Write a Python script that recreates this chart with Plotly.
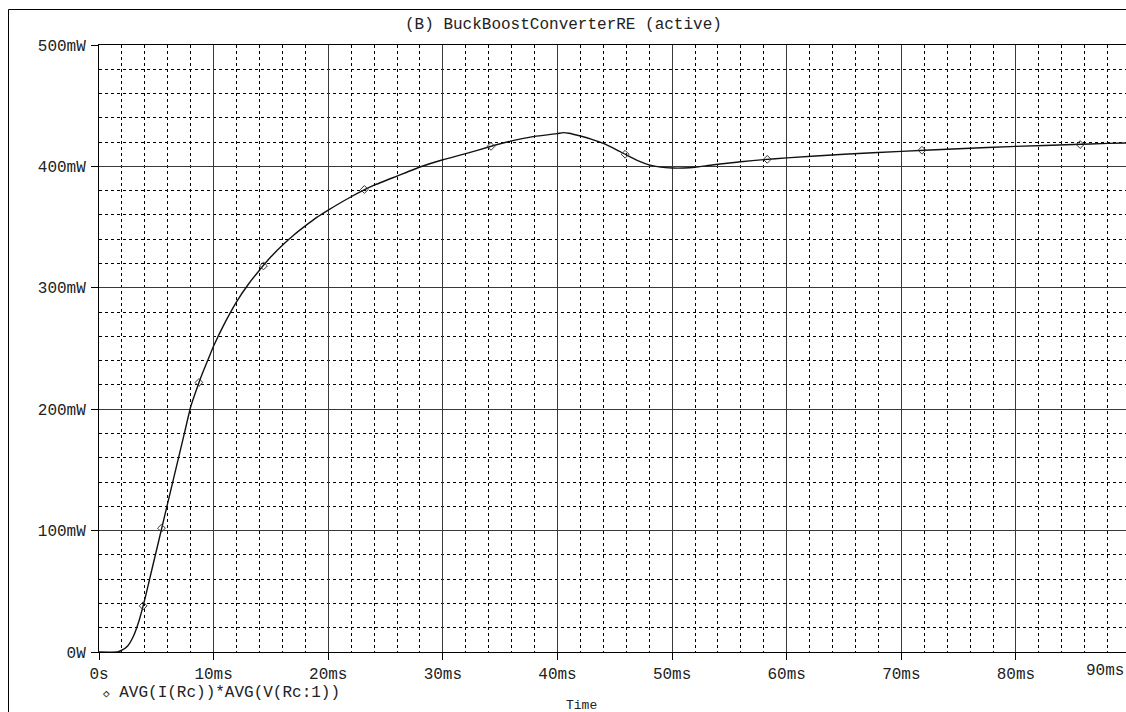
import plotly.graph_objects as go

# ---- data (time in ms, power in mW) ----
time_ms = [0, 1.6, 2.0, 2.5, 3.0, 3.5, 4.0, 4.5, 5.0, 5.5, 6.0, 6.5, 7.0, 7.5, 8.0,
           8.5, 9.0, 9.5, 10, 11, 12, 13, 14, 15, 16, 17, 18, 19, 20, 22, 24, 26, 28,
           30, 32, 34, 36, 38, 40, 40.5, 41, 42, 43, 44, 45, 46, 47, 48, 49, 50, 51,
           52, 53, 54, 56, 58, 60, 65, 70, 75, 80, 85, 88, 89.6]
power_mw = [0, 0, 1.5, 5, 13, 26, 43.5, 63.4, 83.2, 103, 122.8, 142.6, 162.4, 182.2, 202,
            216, 229, 240.5, 252, 271.5, 288.5, 302.5, 314.5, 325.5, 335, 343.5, 351, 358, 364,
            375, 384.5, 392, 399.5, 405.5, 410.5, 416, 421, 424.7, 427, 427.8, 427.3, 425,
            422.3, 419, 414.5, 409.5, 404.8, 401.3, 399.4, 398.7, 398.7, 399.3, 400.5, 401.8,
            403.8, 405.6, 407, 410, 412.4, 414.6, 416.5, 418, 419, 419.3]

marker_t = [3.85, 5.45, 8.72, 14.35, 23.15, 34.2, 45.9, 58.3, 71.8, 85.6]
marker_p = [38, 102, 222, 318, 381, 416.5, 410, 405.8, 413.3, 418]

x_tick_vals = [0, 10, 20, 30, 40, 50, 60, 70, 80]
x_tick_text = ["0s", "10ms", "20ms", "30ms", "40ms", "50ms", "60ms", "70ms", "80ms"]
y_tick_vals = [0, 100, 200, 300, 400, 500]
y_tick_text = ["0W", "100mW", "200mW", "300mW", "400mW", "500mW"]

title_text = "(B) BuckBoostConverterRE (active)"
legend_text = "AVG(I(Rc))*AVG(V(Rc:1))"
xlabel_text = "Time"
last_tick_text = "90ms"

# ---- layout geometry (page pixels) ----
W, H = 1126, 712
ML, MR, MT, MB = 99, 0, 45, 712 - 652
PW, PH = W - ML - MR, H - MT - MB

def px(x):
    """page x pixel -> paper x"""
    return (x - ML) / PW

def py(y):
    """page y pixel -> paper y"""
    return (H - MB - y) / PH

FONT = "Liberation Mono, DejaVu Sans Mono, monospace"

fig = go.Figure()
fig.add_trace(go.Scatter(x=time_ms, y=power_mw, mode="lines",
                         line=dict(color="#111111", width=1.4, shape="spline", smoothing=0.4),
                         showlegend=False, hoverinfo="skip"))
fig.add_trace(go.Scatter(x=marker_t, y=marker_p, mode="markers",
                         marker=dict(symbol="diamond-open", size=6, color="#333333",
                                     line=dict(width=1, color="#333333")),
                         showlegend=False, hoverinfo="skip"))

axis_common = dict(showline=True, linecolor="black", linewidth=1,
                   ticks="outside", ticklen=7, tickcolor="black", tickwidth=1,
                   showgrid=True, gridcolor="#3a3a3a", gridwidth=1, zeroline=False,
                   tickfont=dict(family=FONT, size=16, color="#222222"))

fig.update_xaxes(range=[0, 89.6], tickvals=x_tick_vals, ticktext=x_tick_text,
                 mirror=True,
                 minor=dict(dtick=2, tick0=0, showgrid=True, gridcolor="black",
                            griddash="3px,3px", gridwidth=1, ticks=""),
                 **axis_common)
fig.update_yaxes(range=[0, 500], tickvals=y_tick_vals, ticktext=y_tick_text,
                 mirror=False, ticklabelstandoff=2,
                 minor=dict(dtick=20, tick0=0, showgrid=True, gridcolor="black",
                            griddash="3px,3px", gridwidth=1, ticks=""),
                 **axis_common)

shapes = [
    dict(type="line", xref="paper", yref="paper", x0=px(8.5), x1=px(8.5), y0=py(9.5), y1=py(720),
         line=dict(color="black", width=1)),
    dict(type="line", xref="paper", yref="paper", x0=px(8.5), x1=px(1130), y0=py(9.5), y1=py(9.5),
         line=dict(color="black", width=1)),
]

annotations = [
    dict(text=title_text, x=px(563), y=py(25), xref="paper", yref="paper",
         showarrow=False, xanchor="center", yanchor="middle",
         font=dict(family=FONT, size=16, color="#222222")),
    dict(text="<span style='font-size:11px'>\u25C7</span> " + legend_text,
         x=px(101), y=py(692.5), xref="paper", yref="paper",
         showarrow=False, xanchor="left", yanchor="middle",
         font=dict(family=FONT, size=16, color="#222222")),
    dict(text=xlabel_text, x=px(581), y=py(705), xref="paper", yref="paper",
         showarrow=False, xanchor="center", yanchor="middle",
         font=dict(family=FONT, size=13, color="#222222")),
    dict(text=last_tick_text, x=1, y=py(671), xref="paper", yref="paper",
         showarrow=False, xanchor="right", yanchor="middle",
         font=dict(family=FONT, size=16, color="#222222")),
]

fig.update_layout(width=W, height=H, margin=dict(l=ML, r=MR, t=MT, b=MB, pad=0),
                  paper_bgcolor="white", plot_bgcolor="white",
                  shapes=shapes, annotations=annotations, showlegend=False)

fig.write_html("out.html",
               config={"displayModeBar": False},
               post_script="document.body.style.margin='0';"
                           "document.documentElement.style.overflow='hidden';")
